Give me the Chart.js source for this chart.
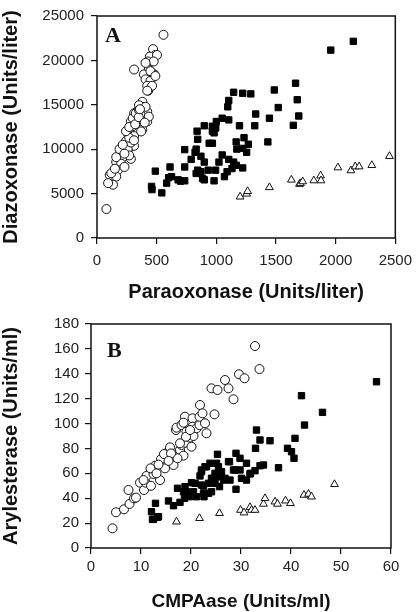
<!DOCTYPE html>
<html>
<head>
<meta charset="utf-8">
<script src="https://cdn.jsdelivr.net/npm/chart.js"></script>
<style>
    html, body { margin: 0; padding: 0; background: #fff; }
    #wrap { position: relative; width: 420px; height: 612px; }
    canvas { position: absolute; left: 0; }
    #chartA { top: 0; }
    #chartB { top: 306px; }
</style>
</head>
<body>
<div id="wrap">
    <canvas id="chartA" width="420" height="306"></canvas>
    <canvas id="chartB" width="420" height="306"></canvas>
</div>
<script>
// Panel A: paraoxonase (x) vs diazoxonase (y), units/liter
const aXTicks = [0, 500, 1000, 1500, 2000, 2500];
const aYTicks = [0, 5000, 10000, 15000, 20000, 25000];

const aCircleX = [557, 470, 489, 443, 426, 311, 434, 481, 393, 407, 448, 421, 429, 380, 393, 352, 333, 421, 311, 366,
    339, 421, 284, 380, 298, 257, 311, 284, 243, 230, 311, 202, 257, 189, 284, 216, 161, 202, 175, 107,
    161, 134, 93, 79, 161, 189, 257, 284, 270, 243, 300, 325, 352, 407, 434, 370, 270, 448, 462, 421,
    503, 475, 489, 407, 230, 216, 270, 320, 350, 400, 230, 120, 150, 310, 360];
const aCircleY = [22880, 21270, 20610, 20430, 19880, 18970, 18970, 18420, 18420, 17870, 17690, 17140, 16590, 15340, 14770, 14950, 14220, 14220, 14040, 13850,
    13300, 13120, 13120, 12200, 12580, 11840, 11480, 10930, 10930, 10200, 10380, 10010, 9830, 9290, 8910, 9100, 8550, 8370, 7640, 7090,
    6910, 6000, 6180, 3260, 9100, 10010, 10010, 10750, 11290, 12030, 13500, 14040, 14400, 14770, 13670, 12000, 9300, 18790, 17140, 16590,
    20610, 19880, 18240, 19720, 9500, 10500, 12500, 12800, 13600, 13000, 8000, 7300, 7800, 11000, 14500];

const aSquareX = [1145, 1221, 1289, 1104, 1096, 1330, 1322, 1194, 1049, 1104, 1000, 967, 981, 899, 839, 844, 940, 967, 735, 822,
    1166, 1232, 1221, 1268, 1254, 1172, 1049, 789, 871, 899, 1022, 1104, 1145, 1131, 1090, 1068, 1221, 735, 489, 612,
    625, 680, 735, 584, 844, 871, 932, 994, 899, 981, 457, 461, 543, 1959, 2148, 1664, 1678, 1691, 1645, 1486,
    1519, 1445, 1432, 600, 700, 831, 885, 1167, 967, 995, 831];
const aSquareY = [16410, 16300, 16230, 15490, 14770, 13960, 12640, 12640, 13490, 13300, 13120, 12580, 11840, 12640, 12030, 11110, 10670, 10670, 9950, 9650,
    10820, 11290, 10090, 10560, 9650, 10010, 9350, 8850, 9210, 8550, 8550, 8850, 8550, 7820, 7460, 6910, 7890, 8000, 7530, 8000,
    6910, 6550, 6440, 6180, 7640, 7460, 7640, 7640, 6550, 6440, 5810, 5450, 5080, 21160, 22150, 17430, 15570, 13740, 12690, 16670,
    14690, 13490, 10820, 6800, 6400, 7270, 6700, 8190, 12030, 12390, 10010];

const aTriangleX = [1199, 1254, 1262, 1445, 1629, 1697, 1705, 1724, 1817, 1874, 1877, 2019, 2128, 2164, 2197, 2303, 2451];
const aTriangleY = [4640, 4970, 5260, 5700, 6550, 6070, 6150, 6360, 6470, 7020, 6470, 7930, 7600, 8040, 8040, 8190, 9210];

// Panel B: CMPAase (x) vs arylesterase (y), units/ml
const bXTicks = [0, 10, 20, 30, 40, 50, 60];
const bYTicks = [0, 20, 40, 60, 80, 100, 120, 140, 160, 180];

const bCircleX = [4.3, 5.0, 6.6, 7.5, 7.7, 8.6, 9.8, 10.6, 10.9, 11.1, 12.5, 12.8, 13.8, 14.0, 14.8, 15.1, 15.8, 16.5, 16.8, 17.8,
    18.1, 18.5, 18.8, 17.0, 17.1, 18.8, 18.1, 19.1, 19.8, 20.1, 20.5, 20.3, 20.3, 21.1, 21.8, 21.7, 21.7, 22.3, 22.8, 23.1,
    24.7, 24.1, 25.3, 26.8, 27.5, 28.5, 29.6, 30.7, 32.8, 33.7, 10.5, 11.9, 13.1, 14.6, 17.3, 17.8, 19.0, 19.8, 18.5, 12.0,
    9.0, 13.5, 16.0, 15.5];
const bCircleY = [15.8, 28.7, 31.1, 46.6, 35.4, 39.9, 52.5, 46.6, 52.5, 57.9, 59.5, 66.1, 54.6, 71.3, 64.0, 76.1, 80.9, 66.7, 73.4, 78.8,
    82.8, 74.2, 84.6, 94.8, 96.7, 105.5, 98.8, 93.5, 88.7, 81.4, 90.0, 104.2, 97.5, 96.2, 114.9, 98.8, 105.5, 108.2, 100.2, 92.2,
    107.4, 128.3, 127.0, 135.0, 128.3, 119.5, 139.6, 136.4, 162.3, 143.8, 54.6, 64.0, 60.0, 75.5, 72.1, 84.1, 89.4, 94.8, 100.7, 50.0,
    40.5, 67.0, 76.0, 70.0];

const bSquareX = [57.1, 42.1, 46.3, 42.7, 40.8, 39.3, 40.1, 40.6, 37.5, 35.8, 33.8, 33.1, 32.9, 34.5, 33.8, 32.8, 31.8, 31.1, 30.1, 29.8,
    31.1, 29.0, 28.5, 29.8, 29.0, 27.7, 25.3, 25.1, 12.1, 12.9, 12.5, 13.5, 15.5, 16.5, 17.3, 17.8, 18.7, 18.8, 18.5, 19.7,
    20.1, 20.5, 21.1, 22.5, 22.6, 21.8, 22.1, 23.1, 23.5, 24.1, 24.5, 24.8, 25.5, 25.8, 26.1, 26.5, 25.7, 27.8, 31.9, 22.1,
    22.8, 23.8, 24.1, 24.8, 26.8, 27.5, 28.8, 19.1, 20.8, 22.1, 22.5, 23.5, 12.3, 13.3];
const bSquareY = [133.6, 122.4, 109.0, 98.8, 88.1, 80.1, 77.4, 72.1, 64.5, 86.2, 86.8, 94.8, 80.1, 66.7, 66.1, 62.1, 59.5, 54.6, 56.0, 72.1,
    68.1, 76.1, 62.7, 62.7, 47.2, 69.4, 75.3, 68.1, 29.2, 35.9, 23.0, 25.2, 37.8, 34.0, 48.0, 36.7, 39.9, 49.3, 45.2, 41.2,
    52.5, 45.2, 41.2, 49.8, 41.2, 57.9, 61.3, 65.3, 52.0, 45.2, 56.0, 60.0, 65.3, 57.3, 61.3, 54.6, 49.3, 54.6, 60.0, 62.7,
    65.3, 68.1, 56.0, 52.0, 56.0, 69.4, 62.7, 45.2, 52.0, 50.6, 44.0, 44.0, 23.0, 24.7];

const bTriangleX = [17.1, 21.7, 25.7, 29.9, 30.6, 31.8, 32.1, 32.8, 34.5, 34.8, 36.8, 37.3, 38.9, 39.9, 42.6, 43.5, 44.1, 48.7];
const bTriangleY = [21.1, 23.9, 27.9, 30.5, 28.4, 32.7, 30.5, 30.5, 35.4, 39.9, 37.2, 35.4, 38.0, 35.9, 42.6, 43.4, 41.2, 51.2];

const sansFont = '"Liberation Sans", Arial, sans-serif';

function toPoints(xs, ys) {
    return xs.map((x, i) => ({ x: x, y: ys[i] }));
}

// draws the closed frame round the plot and the panel letter
const framePlugin = {
    id: 'frame',
    afterDraw(chart, args, opts) {
        const { ctx, chartArea } = chart;
        ctx.save();
        ctx.strokeStyle = '#111';
        ctx.lineWidth = 1.5;
        ctx.strokeRect(chartArea.left, chartArea.top, chartArea.right - chartArea.left, chartArea.bottom - chartArea.top);
        ctx.fillStyle = '#111';
        ctx.font = 'bold 22px "Liberation Serif", "Times New Roman", serif';
        ctx.textBaseline = 'alphabetic';
        ctx.fillText(opts.letter, opts.lx, opts.ly);
        ctx.restore();
    }
};

function makePanel(id, p) {
    const ctx = document.getElementById(id).getContext('2d');
    return new Chart(ctx, {
        type: 'scatter',
        data: {
            datasets: [
                {
                    data: toPoints(p.circleX, p.circleY),
                    pointStyle: 'circle',
                    pointRadius: 4.5,
                    backgroundColor: '#fff',
                    borderColor: '#111',
                    borderWidth: 1
                },
                {
                    data: toPoints(p.squareX, p.squareY),
                    pointStyle: 'rect',
                    pointRadius: 4.5,
                    backgroundColor: '#000',
                    borderColor: '#000',
                    borderWidth: 1
                },
                {
                    data: toPoints(p.triX, p.triY),
                    pointStyle: 'triangle',
                    pointRadius: 4.5,
                    backgroundColor: '#fff',
                    borderColor: '#111',
                    borderWidth: 1
                }
            ]
        },
        options: {
            responsive: false,
            animation: false,
            devicePixelRatio: 1,
            events: [],
            layout: { padding: { top: p.top, right: p.right, left: 0, bottom: 0 } },
            plugins: {
                legend: { display: false },
                tooltip: { enabled: false },
                frame: { letter: p.letter, lx: p.lx, ly: p.ly }
            },
            scales: {
                x: {
                    type: 'linear',
                    min: p.xTicks[0],
                    max: p.xTicks[p.xTicks.length - 1],
                    afterBuildTicks: (scale) => { scale.ticks = p.xTicks.map(v => ({ value: v })); },
                    afterFit: (scale) => { scale.height = p.xAxisH; },
                    border: { display: false },
                    grid: { drawOnChartArea: false, drawTicks: true, tickLength: 6, color: '#111', lineWidth: 1.2 },
                    ticks: {
                        color: '#222',
                        padding: p.xPad,
                        maxRotation: 0,
                        font: { family: sansFont, size: 15 },
                        callback: (v) => String(v)
                    },
                    title: {
                        display: true,
                        text: p.xTitle,
                        color: '#111',
                        font: { family: sansFont, size: p.xTitleSize, weight: 'bold', lineHeight: 1 },
                        padding: { top: 0, bottom: p.xTitlePad }
                    }
                },
                y: {
                    type: 'linear',
                    min: p.yTicks[0],
                    max: p.yTicks[p.yTicks.length - 1],
                    afterBuildTicks: (scale) => { scale.ticks = p.yTicks.map(v => ({ value: v })); },
                    afterFit: (scale) => { scale.width = p.yAxisW; },
                    border: { display: false },
                    grid: { drawOnChartArea: false, drawTicks: true, tickLength: 6, color: '#111', lineWidth: 1.2 },
                    ticks: {
                        color: '#222',
                        padding: p.yPad,
                        font: { family: sansFont, size: 15 },
                        callback: (v) => String(v)
                    },
                    title: {
                        display: true,
                        text: p.yTitle,
                        color: '#111',
                        font: { family: sansFont, size: 20, weight: 'bold', lineHeight: 1 },
                        padding: { top: p.yTitlePad, bottom: 0 }
                    }
                }
            }
        },
        plugins: [framePlugin]
    });
}

makePanel('chartA', {
    circleX: aCircleX, circleY: aCircleY,
    squareX: aSquareX, squareY: aSquareY,
    triX: aTriangleX, triY: aTriangleY,
    xTicks: aXTicks, yTicks: aYTicks,
    xTitle: 'Paraoxonase (Units/liter)',
    yTitle: 'Diazoxonase (Units/liter)',
    xTitleSize: 20,
    top: 10, right: 18, yAxisW: 97, xAxisH: 68,
    xPad: 8, yPad: 7, xTitlePad: 4, yTitlePad: 1,
    letter: 'A', lx: 105, ly: 42
});

makePanel('chartB', {
    circleX: bCircleX, circleY: bCircleY,
    squareX: bSquareX, squareY: bSquareY,
    triX: bTriangleX, triY: bTriangleY,
    xTicks: bXTicks, yTicks: bYTicks,
    xTitle: 'CMPAase (Units/ml)',
    yTitle: 'Arylesterase (Units/ml)',
    xTitleSize: 19,
    top: 18, right: 29, yAxisW: 91, xAxisH: 64,
    xPad: 4, yPad: 6, xTitlePad: 1, yTitlePad: 1,
    letter: 'B', lx: 107, ly: 51
});
</script>
</body>
</html>
